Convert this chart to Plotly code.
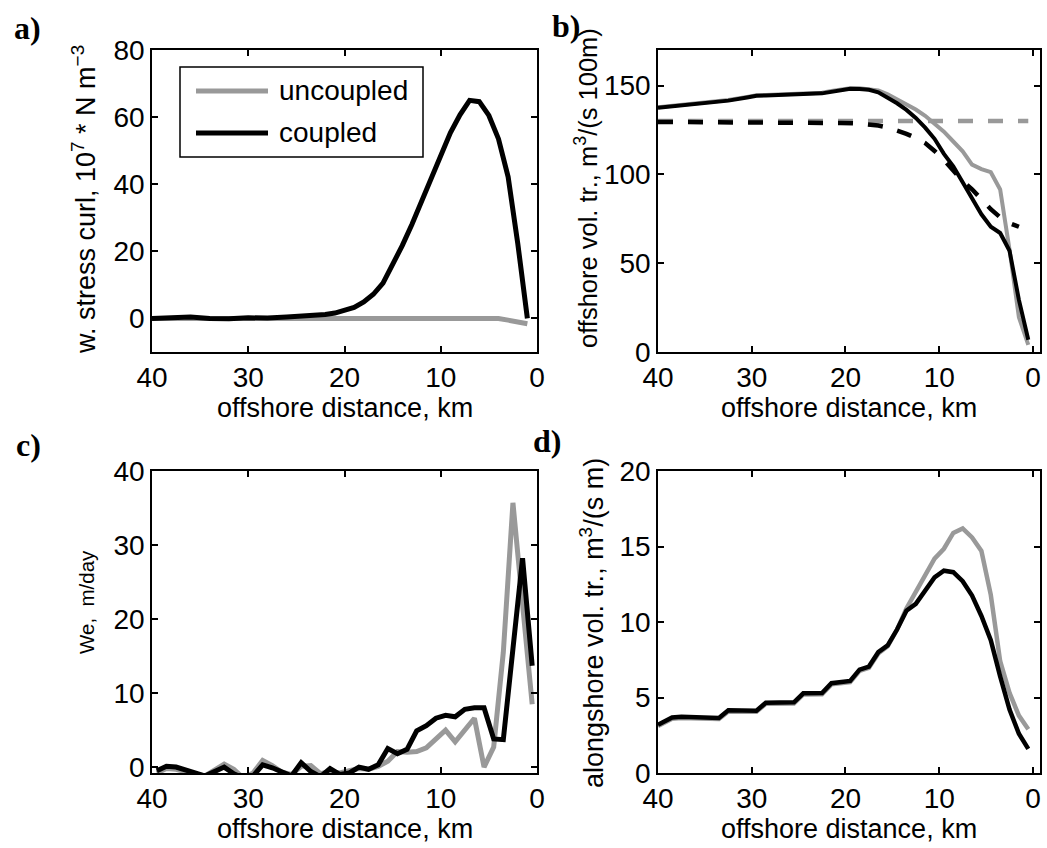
import plotly.graph_objects as go

W, H = 1047, 848
SANS = "Liberation Sans, Arial, Helvetica, sans-serif"
SERIF = "Liberation Serif, Times New Roman, serif"
GRAY = "rgb(153,153,153)"
BLACK = "#000000"

# ---------------- data ----------------
# a) wind stress curl
x_a = [40, 38, 36, 34, 32, 30, 28, 26, 24, 22, 21, 20, 19, 18, 17, 16, 15, 14, 13,
       12, 11, 10, 9, 8, 7, 6, 5, 4, 3, 2, 1]
curl_uncoupled = [0.0, 0.0, 0.0, 0.0, 0.0, 0.0, 0.0, 0.0, 0.0, 0.0, 0.0, 0.0, 0.0, 0.0, 0.0,
                  0.0, 0.0, 0.0, 0.0, 0.0, 0.0, 0.0, 0.0, 0.0, 0.0, 0.0, 0.0, 0.0, -0.5, -1.0, -1.6]
curl_coupled = [0.0, 0.2, 0.4, 0.0, -0.1, 0.2, 0.1, 0.4, 0.7, 1.2, 1.6, 2.3, 3.3, 4.9, 7.2,
                10.5, 15.8, 21.7, 28.0, 34.6, 41.7, 48.5, 55.3, 60.7, 65.0, 64.6, 60.5, 53.5,
                42.2, 22.4, 0.0]

# b) offshore volume transport
x_b = [40, 38.5, 36.5, 34.5, 32.5, 30.5, 29.5, 28.5, 26.5, 24.5, 22.5, 21.5, 20.5, 19.5,
       18.5, 17.5, 16.5, 15.5, 14.5, 13.5, 12.5, 11.5, 10.5, 9.5, 8.5, 7.5, 6.5, 5.5,
       4.5, 3.5, 2.5, 1.5, 0.5]
off_uncoupled = [137.8, 138.6, 139.6, 140.9, 141.9, 143.6, 144.5, 144.6, 144.9, 145.5, 145.9,
                 146.9, 147.7, 148.5, 148.5, 148.0, 147.2, 145.0, 142.3, 139.6, 136.5, 133.0,
                 128.5, 124.0, 118.5, 113.0, 105.5, 103.0, 101.2, 91.5, 57.5, 19.5, 4.0]
off_coupled = [137.5, 138.3, 139.2, 140.5, 141.5, 143.3, 144.3, 144.4, 144.6, 145.2, 145.6,
               146.6, 147.4, 148.2, 148.1, 147.6, 146.2, 143.2, 140.0, 136.3, 131.8, 126.3,
               120.0, 111.5, 104.5, 95.5, 86.0, 77.5, 70.5, 67.0, 57.0, 29.3, 6.9]
x_b_ek = [40, 38.5, 36.5, 34.5, 32.5, 30.5, 28.5, 26.5, 24.5, 22.5, 20.5, 18.5, 17.5,
          16.5, 15.5, 14.5, 13.5, 12.5, 11.5, 10.5, 9.5, 8.5, 7.5, 6.5, 5.5, 4.5, 3.5,
          2.5, 1.5, 0.5]
ekman_uncoupled = [130.0, 130.0, 130.0, 130.0, 130.0, 130.0, 130.0, 130.0, 130.0, 130.0,
                   130.0, 130.0, 130.0, 130.0, 130.0, 130.0, 130.0, 130.0, 130.0, 130.0,
                   130.0, 130.0, 130.0, 130.0, 130.0, 130.0, 130.0, 130.0, 130.0, 130.0]
x_b_ekc = [40, 38.5, 36.5, 34.5, 32.5, 30.5, 28.5, 26.5, 24.5, 22.5, 20.5, 18.5, 17.5,
           16.5, 15.5, 14.5, 13.5, 12.5, 11.5, 10.5, 9.5, 8.5, 7.5, 6.5, 5.5, 4.5, 3.5,
           2.5, 1.5]
ekman_coupled = [129.5, 129.5, 129.5, 129.5, 129.4, 129.4, 129.3, 129.2, 129.1, 129.0,
                 128.9, 128.6, 128.2, 127.5, 126.4, 124.8, 122.8, 120.5, 117.6, 113.2,
                 108.2, 102.2, 96.3, 91.6, 86.0, 80.4, 75.8, 72.5, 70.5]

# c) Ekman pumping velocity
x_c = [39.5, 38.5, 37.5, 36.5, 35.5, 34.5, 33.5, 32.5, 31.5, 30.5, 29.5, 28.5, 27.5,
       26.5, 25.5, 24.5, 23.5, 22.5, 21.5, 20.5, 19.5, 18.5, 17.5, 16.5, 15.5, 14.5,
       13.5, 12.5, 11.5, 10.5, 9.5, 8.5, 7.5, 6.5, 5.5, 4.5, 3.5, 2.5, 1.5, 0.5]
we_uncoupled = [-0.8, -0.2, -0.3, -0.7, -1.0, -1.2, -0.4, 0.4, -0.3, -1.5, -0.8, 0.9, 0.2,
                -0.7, -1.0, 0.1, 0.2, -0.9, -0.6, -0.8, -0.5, -0.2, -0.3, 0.1, 0.8, 2.1,
                2.0, 2.1, 2.6, 3.8, 5.0, 3.4, 5.0, 6.6, 0.0, 2.7, 15.5, 35.7, 22.0, 8.5]
we_coupled = [-0.5, 0.1, 0.0, -0.4, -0.9, -1.2, -0.6, 0.0, -0.9, -1.5, -1.2, 0.3, -0.1,
              -0.7, -1.2, 0.6, -0.6, -1.3, -0.2, -1.0, -0.8, 0.0, -0.3, 0.3, 2.5, 1.8,
              2.4, 4.9, 5.6, 6.6, 7.0, 6.8, 7.8, 8.0, 8.0, 3.8, 3.7, 16.0, 28.2, 13.7]

# d) alongshore volume transport
x_d = [40, 38.5, 37.5, 36.5, 35.5, 34.5, 33.5, 32.5, 31.5, 30.5, 29.5, 28.5, 27.5, 26.5,
       25.5, 24.5, 23.5, 22.5, 21.5, 20.5, 19.5, 18.5, 17.5, 16.5, 15.5, 14.5, 13.5,
       12.5, 11.5, 10.5, 9.5, 8.5, 7.5, 6.5, 5.5, 4.5, 3.5, 2.5, 1.5, 0.5]
along_uncoupled = [3.12, 3.6, 3.65, 3.63, 3.6, 3.57, 3.58, 4.08, 4.08, 4.06, 4.05, 4.58,
                   4.6, 4.59, 4.6, 5.2, 5.21, 5.22, 5.87, 5.92, 6.02, 6.77, 6.97, 7.92,
                   8.4, 9.5, 10.9, 12.0, 13.1, 14.2, 14.85, 15.9, 16.2, 15.6, 14.7, 11.8,
                   7.4, 5.3, 3.8, 2.9]
along_coupled = [3.2, 3.68, 3.72, 3.7, 3.67, 3.64, 3.65, 4.15, 4.15, 4.13, 4.12, 4.65,
                 4.67, 4.66, 4.68, 5.28, 5.28, 5.3, 5.95, 6.0, 6.1, 6.85, 7.05, 8.0, 8.45,
                 9.5, 10.75, 11.2, 12.1, 12.95, 13.4, 13.3, 12.7, 11.75, 10.4, 8.8, 6.4,
                 4.2, 2.6, 1.6]

x_tickvals = [40, 30, 20, 10, 0]
x_ticktext = ["40", "30", "20", "10", "0"]

# ---------------- figure ----------------
fig = go.Figure()


def add(x, y, axis, color, width, dash=None):
    fig.add_trace(go.Scatter(
        x=x, y=y, mode="lines", xaxis="x" + axis, yaxis="y" + axis,
        line=dict(color=color, width=width, dash=dash or "solid"),
        showlegend=False, hoverinfo="skip"))


add(x_a, curl_uncoupled, "", GRAY, 5)
add(x_a, curl_coupled, "", BLACK, 5)

add(x_b_ek, ekman_uncoupled, "2", GRAY, 4.5, "15px,15px")
add(x_b_ekc, ekman_coupled, "2", BLACK, 4.5, "15px,15px")
add(x_b, off_uncoupled, "2", GRAY, 4)
add(x_b, off_coupled, "2", BLACK, 4)

add(x_c, we_uncoupled, "3", GRAY, 5)
add(x_c, we_coupled, "3", BLACK, 5)

add(x_d, along_uncoupled, "4", GRAY, 4.5)
add(x_d, along_coupled, "4", BLACK, 4.5)


def fx(px):
    return px / W


def fy(py):
    return 1 - py / H


LEFT = (152, 537)
RIGHT = (658, 1040)
TOP = (50, 352)
BOT = (471, 773)

common = dict(showline=True, linecolor="black", linewidth=1.5, mirror="ticks",
              ticks="inside", ticklen=6, tickwidth=1.5, tickcolor="black",
              showgrid=False, zeroline=False, automargin=False,
              tickfont=dict(family=SANS, size=28, color="black"))


def xax(dom, rng, anchor):
    d = dict(common)
    d.update(domain=[fx(dom[0]), fx(dom[1])], range=rng, anchor=anchor,
             tickmode="array", tickvals=x_tickvals, ticktext=x_ticktext)
    return d


def yax(dom, rng, dtick, anchor):
    d = dict(common)
    d.update(domain=[fy(dom[1]), fy(dom[0])], range=rng, anchor=anchor,
             tickmode="linear", tick0=0, dtick=dtick)
    return d


fig.update_layout(
    template="none",
    width=W, height=H,
    margin=dict(l=0, r=0, t=0, b=0, pad=0),
    paper_bgcolor="white", plot_bgcolor="white",
    showlegend=False,
    xaxis=xax(LEFT, [40, 0], "y"),
    yaxis=yax(TOP, [-10, 80], 20, "x"),
    xaxis2=xax(RIGHT, [40, -0.75], "y2"),
    yaxis2=yax(TOP, [0, 170], 50, "x2"),
    xaxis3=xax(LEFT, [40, 0], "y3"),
    yaxis3=yax(BOT, [-0.8, 40], 10, "x3"),
    xaxis4=xax(RIGHT, [40, -0.75], "y4"),
    yaxis4=yax(BOT, [0, 20], 5, "x4"),
)

TF = dict(family=SANS, size=27, color="black")
ann = []


def text(s, px, py, angle=0, font=TF, xanchor="center"):
    ann.append(dict(text=s, x=fx(px), y=fy(py), xref="paper", yref="paper",
                    showarrow=False, textangle=angle, font=font,
                    xanchor=xanchor, yanchor="middle"))


# x titles
for cx in (344.5, 849):
    text("offshore distance, km", cx, 408)
    text("offshore distance, km", cx, 829)

# y titles
text("w. stress curl, 10<sup>7</sup> * N m<sup>−3</sup>", 84, 200, -90)
text("offshore vol. tr., m<sup>3</sup>/(s 100m)", 586, 188, -90,
     font=dict(family=SANS, size=25.5, color="black"))
text("We,&nbsp; m/day", 86, 602, -90, font=dict(family=SANS, size=20.5, color="black"))
text("alongshore vol. tr., m<sup>3</sup>/(s m)", 592, 623, -90)

# panel letters
PF = dict(family=SERIF, size=32, color="black")
text("<b>a)</b>", 27, 28, font=PF)
text("<b>b)</b>", 566, 26, font=PF)
text("<b>c)</b>", 28, 445, font=PF)
text("<b>d)</b>", 547, 441, font=PF)

# legend (panel a)
LF = dict(family=SANS, size=28, color="black")
text("uncoupled", 277, 91, font=LF, xanchor="left")
text("coupled", 277, 133, font=LF, xanchor="left")

shapes = [
    dict(type="rect", xref="paper", yref="paper", x0=fx(180), x1=fx(423),
         y0=fy(157), y1=fy(67), line=dict(color="black", width=1.5),
         fillcolor="white", layer="above"),
    dict(type="line", xref="paper", yref="paper", x0=fx(196), x1=fx(268),
         y0=fy(91), y1=fy(91), line=dict(color=GRAY, width=5)),
    dict(type="line", xref="paper", yref="paper", x0=fx(196), x1=fx(268),
         y0=fy(133), y1=fy(133), line=dict(color=BLACK, width=5)),
]

fig.update_layout(annotations=ann, shapes=shapes)
fig.write_html(
    "out.html",
    config={"displayModeBar": False},
    post_script="document.body.style.margin='0';document.body.style.overflow='hidden';",
)
